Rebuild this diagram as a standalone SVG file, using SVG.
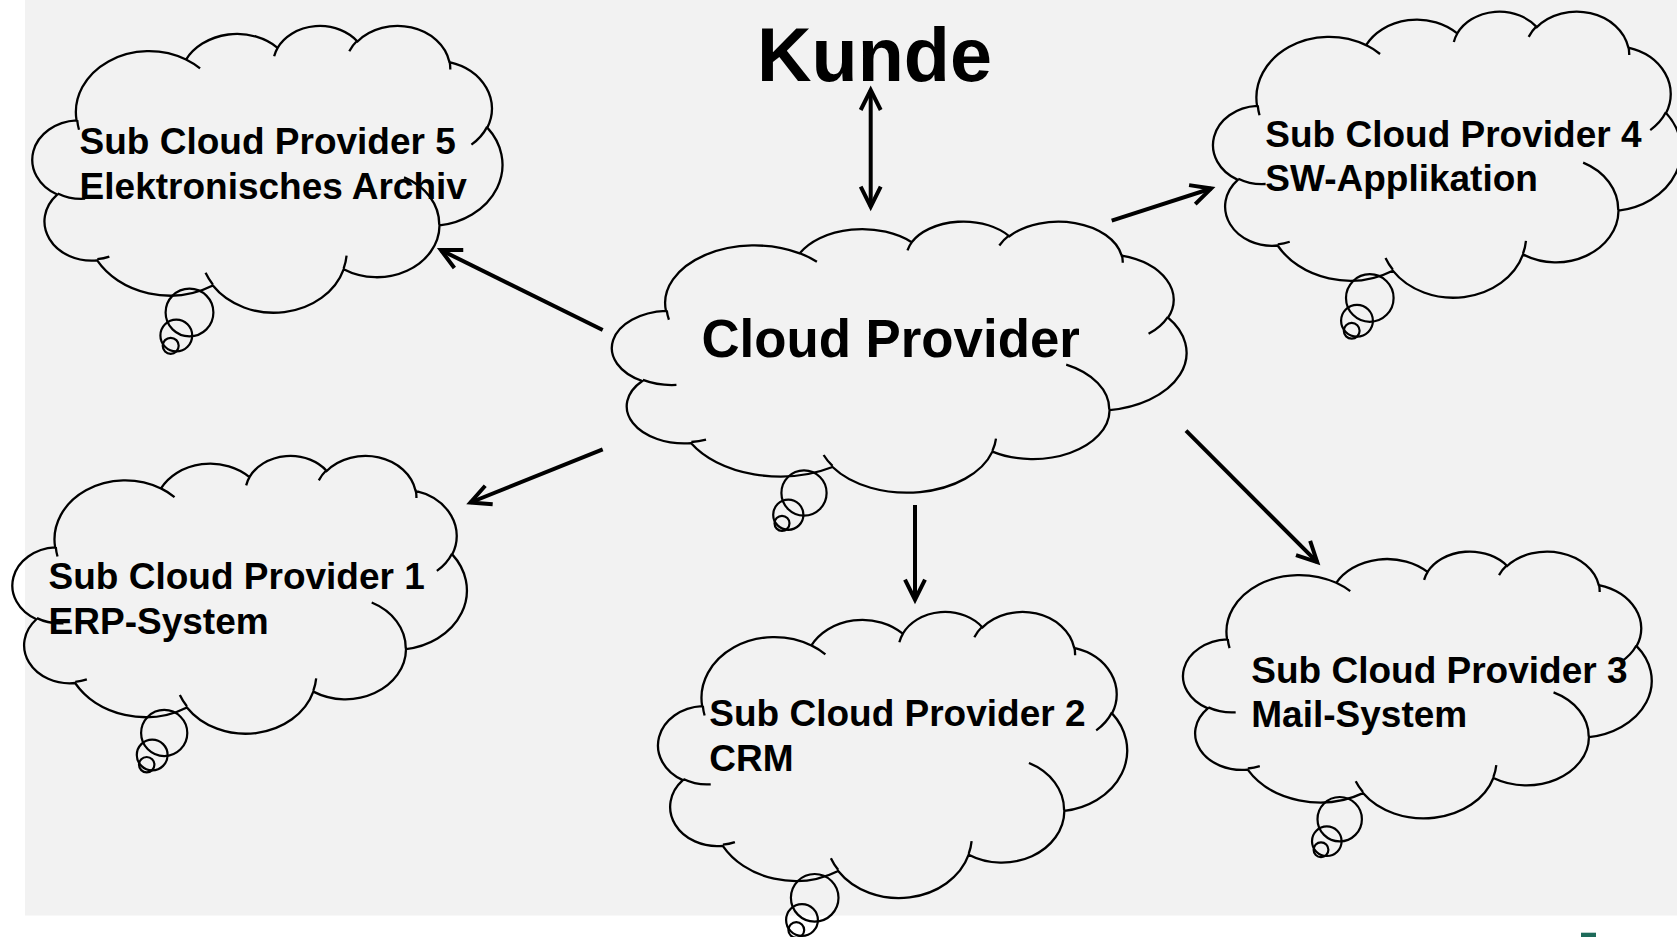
<svg xmlns="http://www.w3.org/2000/svg" xmlns:xlink="http://www.w3.org/1999/xlink" width="1677" height="937" viewBox="0 0 1677 937">
  <style>
    .bg { fill: #f2f2f2; }
    .cloud { fill: none; stroke: #000; stroke-width: 2.3; }
    .tail { fill: none; stroke: #000; stroke-width: 2.2; }
    .label { font-family: "Liberation Sans", Arial, "Noto Sans", sans-serif; font-weight: bold; fill: #000; }
    .sub { font-size: 37px; }
    .main { font-size: 52.8px; }
    .title { font-size: 75.5px; }
    .link { fill: none; stroke: #000; stroke-width: 4; }
  </style>
  <defs>
    <!-- cloud outline plus inner lobe strokes, drawn in a 43200 x 43200 box -->
    <path id="cloud" class="cloud" vector-effect="non-scaling-stroke"
      d="M3900 14370 A6753 9190 0 0 1 14006 5203 A5333 7267 0 0 1 22457 3434 A4365 5945 0 0 1 29834 2481 A4857 6595 0 0 1 38319 5576 A5333 7273 0 0 1 41819 15460 A6775 9220 0 0 1 37405 30202 A5785 7867 0 0 1 28556 36812 A6752 9215 0 0 1 16482 39266 A7720 10543 0 0 1 5806 35469 A4360 5918 0 0 1 2113 25550 A4345 5945 0 0 1 3900 14370 Z
         M4693 26177 A4345 5945 0 0 1 2160 25380
         M6928 34899 A4360 5918 0 0 1 5819 35281
         M16478 39090 A6752 9215 0 0 1 15809 37347
         M28827 34751 A6752 9215 0 0 1 28560 36660
         M34129 22954 A5785 7867 0 0 1 37380 30089
         M41798 15354 A5333 7273 0 0 1 40350 18030
         M38324 5426 A4857 6595 0 0 1 38400 6690
         M29078 3952 A4857 6595 0 0 1 29820 2339
         M22141 4720 A4365 5945 0 0 1 22500 3330
         M14000 5192 A6753 9190 0 0 1 15301 6542
         M4127 15789 A6753 9190 0 0 1 3961 14314"/>
    <marker id="head" markerUnits="userSpaceOnUse" markerWidth="40" markerHeight="40" viewBox="-30 -15 40 30" refX="0" refY="0" orient="auto-start-reverse" overflow="visible">
      <path d="M-20,-10 L0,0 L-20,10" fill="none" stroke="#000" stroke-width="4" stroke-linejoin="miter"/>
    </marker>
  </defs>

  <!-- slide background -->
  <rect class="bg" x="25" y="0" width="1652" height="915.5"/>
  <rect x="1581" y="932.7" width="15" height="4.3" fill="#1e6b5a"/>

  <!-- connectors -->
  <g id="connectors">
    <line class="link" x1="870.7" y1="90" x2="870.7" y2="206.7" marker-start="url(#head)" marker-end="url(#head)"/>
    <line class="link" x1="602.7" y1="330" x2="440.9" y2="250.1" marker-end="url(#head)"/>
    <line class="link" x1="602.7" y1="449.3" x2="470.4" y2="502.5" marker-end="url(#head)"/>
    <line class="link" x1="915" y1="505" x2="915" y2="599.7" marker-end="url(#head)"/>
    <line class="link" x1="1111.7" y1="220.7" x2="1211.2" y2="188.5" marker-end="url(#head)"/>
    <line class="link" x1="1186" y1="430.7" x2="1317.2" y2="562.2" marker-end="url(#head)"/>
  </g>

  <g id="kunde">
    <text class="label title" x="757" y="80.7">Kunde</text>
  </g>

  <g id="cloud-provider">
    <use xlink:href="#cloud" href="#cloud" transform="translate(614.3,220.7) scale(0.013241,0.0062731)"/>
    <circle class="tail" cx="804" cy="493" r="22.6"/>
    <circle class="tail" cx="788.3" cy="514.7" r="15.1"/>
    <circle class="tail" cx="782" cy="523.3" r="7.5"/>
    <text class="label main" x="701.4" y="356.7">Cloud Provider</text>
  </g>

  <g id="sub-cloud-provider-5">
    <use xlink:href="#cloud" href="#cloud" transform="translate(34.3,25) scale(0.010833,0.0066366)"/>
    <circle class="tail" cx="189.5" cy="312.5" r="23.9"/>
    <circle class="tail" cx="176.3" cy="335.5" r="15.9"/>
    <circle class="tail" cx="170.7" cy="345.8" r="8"/>
    <text class="label sub" x="79.6" y="153.5">Sub Cloud Provider 5</text>
    <text class="label sub" x="79.6" y="198.5">Elektronisches Archiv</text>
  </g>

  <g id="sub-cloud-provider-4">
    <use xlink:href="#cloud" href="#cloud" transform="translate(1215,10.7) scale(0.010787,0.0066204)"/>
    <circle class="tail" cx="1369.8" cy="298" r="23.8"/>
    <circle class="tail" cx="1357" cy="320.8" r="15.9"/>
    <circle class="tail" cx="1351.7" cy="330.8" r="7.9"/>
    <text class="label sub" x="1265.3" y="147">Sub Cloud Provider 4</text>
    <text class="label sub" x="1265.3" y="191">SW-Applikation</text>
  </g>

  <g id="sub-cloud-provider-1">
    <use xlink:href="#cloud" href="#cloud" transform="translate(14.3,455) scale(0.010472,0.0064282)"/>
    <circle class="tail" cx="164.2" cy="733" r="23.1"/>
    <circle class="tail" cx="152.2" cy="755" r="15.4"/>
    <circle class="tail" cx="146.7" cy="764.7" r="7.7"/>
    <text class="label sub" x="48.6" y="589">Sub Cloud Provider 1</text>
    <text class="label sub" x="48.6" y="634">ERP-System</text>
  </g>

  <g id="sub-cloud-provider-2">
    <use xlink:href="#cloud" href="#cloud" transform="translate(660,611) scale(0.01081,0.0066204)"/>
    <circle class="tail" cx="814.7" cy="897.8" r="23.8"/>
    <circle class="tail" cx="802" cy="920" r="15.9"/>
    <circle class="tail" cx="796.3" cy="930" r="7.9"/>
    <text class="label sub" x="709.3" y="726">Sub Cloud Provider 2</text>
    <text class="label sub" x="709.3" y="771">CRM</text>
  </g>

  <g id="sub-cloud-provider-3">
    <use xlink:href="#cloud" href="#cloud" transform="translate(1185,550.7) scale(0.010799,0.0061736)"/>
    <circle class="tail" cx="1339.7" cy="819.2" r="22.2"/>
    <circle class="tail" cx="1326.8" cy="841.2" r="14.8"/>
    <circle class="tail" cx="1321" cy="849.7" r="7.4"/>
    <text class="label sub" x="1251.3" y="682.7">Sub Cloud Provider 3</text>
    <text class="label sub" x="1251.3" y="726.5">Mail-System</text>
  </g>
</svg>
